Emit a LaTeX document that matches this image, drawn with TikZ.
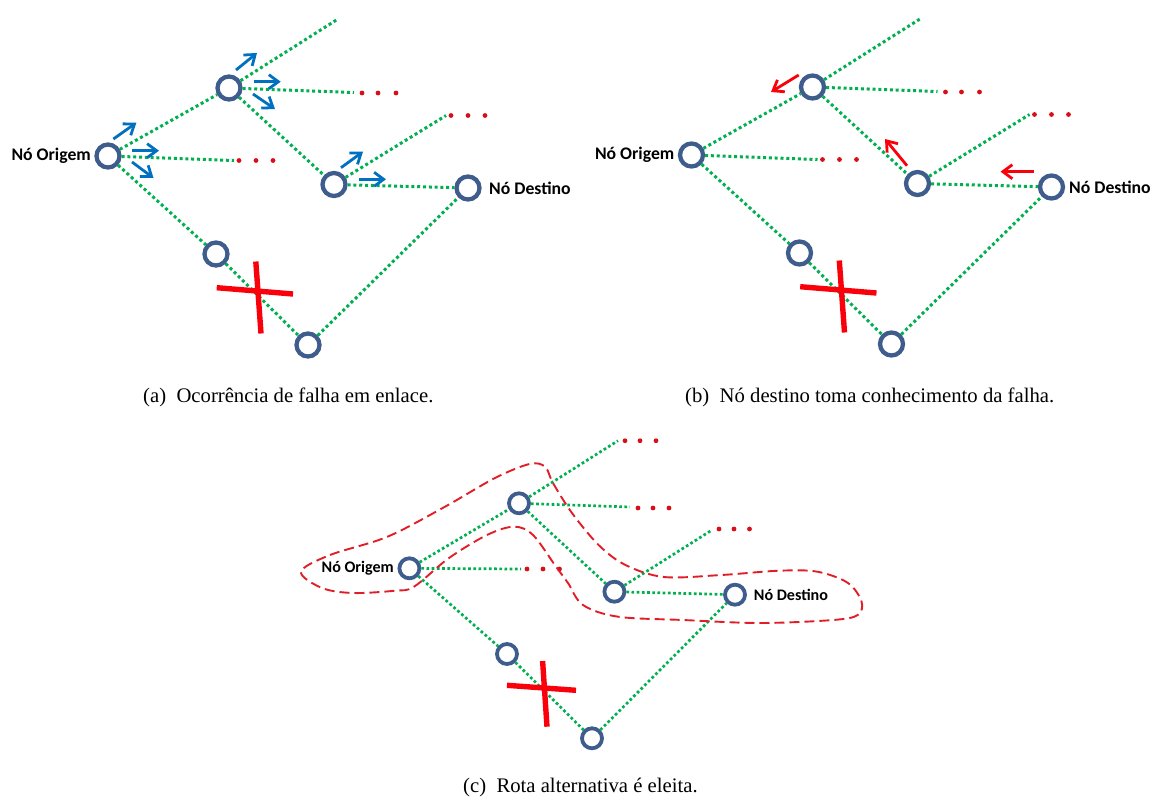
\documentclass[tikz,border=0pt]{standalone}
\usepackage{fontspec}
\setmainfont{Liberation Serif}
\newfontfamily\lblfont{Carlito}
\usetikzlibrary{arrows.meta}
\definecolor{linkgreen}{RGB}{0,176,80}
\definecolor{ringblue}{RGB}{62,92,140}
\definecolor{flowblue}{RGB}{0,112,192}
\definecolor{xred}{RGB}{250,0,10}
\definecolor{dotred}{RGB}{215,15,25}
\definecolor{routered}{RGB}{225,30,40}
\tikzset{
  ring/.style={circle,draw=ringblue,line width=4.3pt,fill=none,minimum size=23pt,inner sep=0pt},
  ringc/.style={ring,line width=3.8pt,minimum size=20pt},
  link/.style={draw=linkgreen,line width=3pt,dash pattern=on 3pt off 2.8pt},
  linkc/.style={draw=linkgreen,line width=2.7pt,dash pattern=on 2.7pt off 2.5pt},
  reddot/.style={circle,fill=dotred,inner sep=0pt,minimum size=4.8pt},
  flow/.style={draw=flowblue,line width=2.8pt,-{Straight Barb[length=9.5pt,width=14pt,line width=2.8pt]}},
  flowback/.style={draw=xred,line width=2.8pt,-{Straight Barb[length=9.5pt,width=14pt,line width=2.8pt]}},
  crossbar/.style={draw=xred,line width=5.4pt},
  lbl/.style={font=\lblfont\bfseries\fontsize{17.7}{19}\selectfont,inner sep=0pt},
  lblc/.style={font=\lblfont\bfseries\fontsize{16.1}{18}\selectfont,inner sep=0pt},
  subcap/.style={font=\fontsize{20.7}{23}\selectfont,inner sep=0pt,anchor=base west},
  route/.style={draw=routered,line width=1.9pt,dash pattern=on 10pt off 5pt}
}
% network shared by panels (a) and (b); #1 is the name prefix, #2 the x of the destination label
\newcommand{\basenet}[2]{%
  \node[ring] (#1o) at (108,156) {};
  \node[ring] (#1b) at (229,88) {};
  \node[ring] (#1c) at (334,184.5) {};
  \node[ring] (#1d) at (468,188) {};
  \node[ring] (#1e) at (216,254) {};
  \node[ring] (#1f) at (308,345) {};
  \coordinate (#1top) at (338,19);
  \coordinate (#1s1) at (234,160.5);
  \coordinate (#1s2) at (354,92.5);
  \coordinate (#1s3) at (446,115.5);
  \draw[link] (#1o) -- (#1b);
  \draw[link] (#1b) -- (#1top);
  \draw[link] (#1o) -- (#1s1);
  \draw[link] (#1b) -- (#1s2);
  \draw[link] (#1b) -- (#1c);
  \draw[link] (#1c) -- (#1s3);
  \draw[link] (#1c) -- (#1d);
  \draw[link] (#1o) -- (#1e);
  \draw[link] (#1e) -- (#1f);
  \draw[link] (#1f) -- (#1d);
  \foreach \i/\x/\y in {1/239/160.5,2/256/160.5,3/273/160.5,4/362/93,5/378/93,6/396/93,7/451/115.5,8/468/115.5,9/485/115.5}
    \node[reddot] (#1dot\i) at (\x,\y) {};
  \node[lbl,anchor=east] (#1lo) at (91,156) {Nó Origem};
  \node[lbl,anchor=west] (#1ld) at (#2,188) {Nó Destino};
  \coordinate (#1x1) at (255.8,261.5);
  \coordinate (#1x2) at (261,333.5);
  \coordinate (#1x3) at (216.7,287.7);
  \coordinate (#1x4) at (293,294);
  \draw[crossbar] (#1x1) -- (#1x2);
  \draw[crossbar] (#1x3) -- (#1x4);
}
\begin{document}
\begin{tikzpicture}[x=1pt,y=-1pt]
\useasboundingbox (0,0) rectangle (1152,798);
% panel (a)
\begin{scope}
  \basenet{a}{489}
  \foreach \i/\xa/\ya/\xb/\yb in {1/113.4/139/136.4/122.7,2/132/150.7/159/150.7,3/132/162/153.5/178,
      4/236/70/257/53,5/253.5/81.7/280.7/81.7,6/253/94/275/109,
      7/341/167.7/363/151.7,8/358.7/179.3/386/179.3}{
    \coordinate (af\i s) at (\xa,\ya);
    \coordinate (af\i e) at (\xb,\yb);
    \draw[flow] (af\i s) -- (af\i e);
  }
\end{scope}
\node[subcap] (capa) at (143,402.5) {(a)\ \ Ocorrência de falha em enlace.};
% panel (b)
\begin{scope}[shift={(583.5,-1)}]
  \basenet{b}{485.5}
\end{scope}
\foreach \i/\xa/\ya/\xb/\yb in {1/798.7/75/771/92,2/907/165.7/885/139,3/1033.5/171.7/1000.5/171.7}{
  \coordinate (bf\i s) at (\xa,\ya);
  \coordinate (bf\i e) at (\xb,\yb);
  \draw[flowback] (bf\i s) -- (bf\i e);
}
\node[subcap] (capb) at (685,402.5) {(b)\ \ Nó destino toma conhecimento da falha.};
% panel (c)
\node[ringc] (co) at (409.4,568.3) {};
\node[ringc] (cb) at (519,503.3) {};
\node[ringc] (cc) at (614.4,591.7) {};
\node[ringc] (cd) at (735,594.7) {};
\node[ringc] (ce) at (507,654) {};
\node[ringc] (cf) at (592,738.3) {};
\coordinate (ctop) at (618,440.7);
\coordinate (cs1) at (521,569);
\coordinate (cs2) at (630,507);
\coordinate (cs3) at (712,530);
\draw[linkc] (co) -- (cb);
\draw[linkc] (cb) -- (ctop);
\draw[linkc] (co) -- (cs1);
\draw[linkc] (cb) -- (cs2);
\draw[linkc] (cb) -- (cc);
\draw[linkc] (cc) -- (cs3);
\draw[linkc] (cc) -- (cd);
\draw[linkc] (co) -- (ce);
\draw[linkc] (ce) -- (cf);
\draw[linkc] (cf) -- (cd);
\foreach \i/\x/\y in {1/625/440.7,2/640/440.7,3/656/440.7,4/638/508,5/653/508,6/669/508,7/527/569,8/543/569,9/559.5/569,10/719/529,11/734/529,12/749.5/529}
  \node[reddot] (cdot\i) at (\x,\y) {};
\node[lblc,anchor=east] (clo) at (394,568) {Nó Origem};
\node[lblc,anchor=west] (cld) at (753.7,594.5) {Nó Destino};
\coordinate (cx1) at (542.6,661);
\coordinate (cx2) at (547,726.7);
\coordinate (cx3) at (507,685.3);
\coordinate (cx4) at (576,690.3);
\draw[crossbar] (cx1) -- (cx2);
\draw[crossbar] (cx3) -- (cx4);
\draw[route] plot[smooth cycle,tension=0.55] coordinates {
  (301,571.7) (330,555) (387.5,536.7) (445,506.7) (495,478) (529.5,464) (545,466.7)
  (553,483) (572,513) (598.6,545) (625.5,565) (664,577) (721.5,575) (779,570.7)
  (817.4,571.7) (848,583) (861.6,601.7) (857.7,615) (833,620) (760,623) (683,620)
  (618,616.7) (583,605) (568,583) (556,566.7) (533,535) (514,526.7) (487,535)
  (449,558) (414,586.7) (395,590.7) (353,593) (322,588)};
\node[subcap] (capc) at (463,792.7) {(c)\ \ Rota alternativa é eleita.};
\end{tikzpicture}
\end{document}
